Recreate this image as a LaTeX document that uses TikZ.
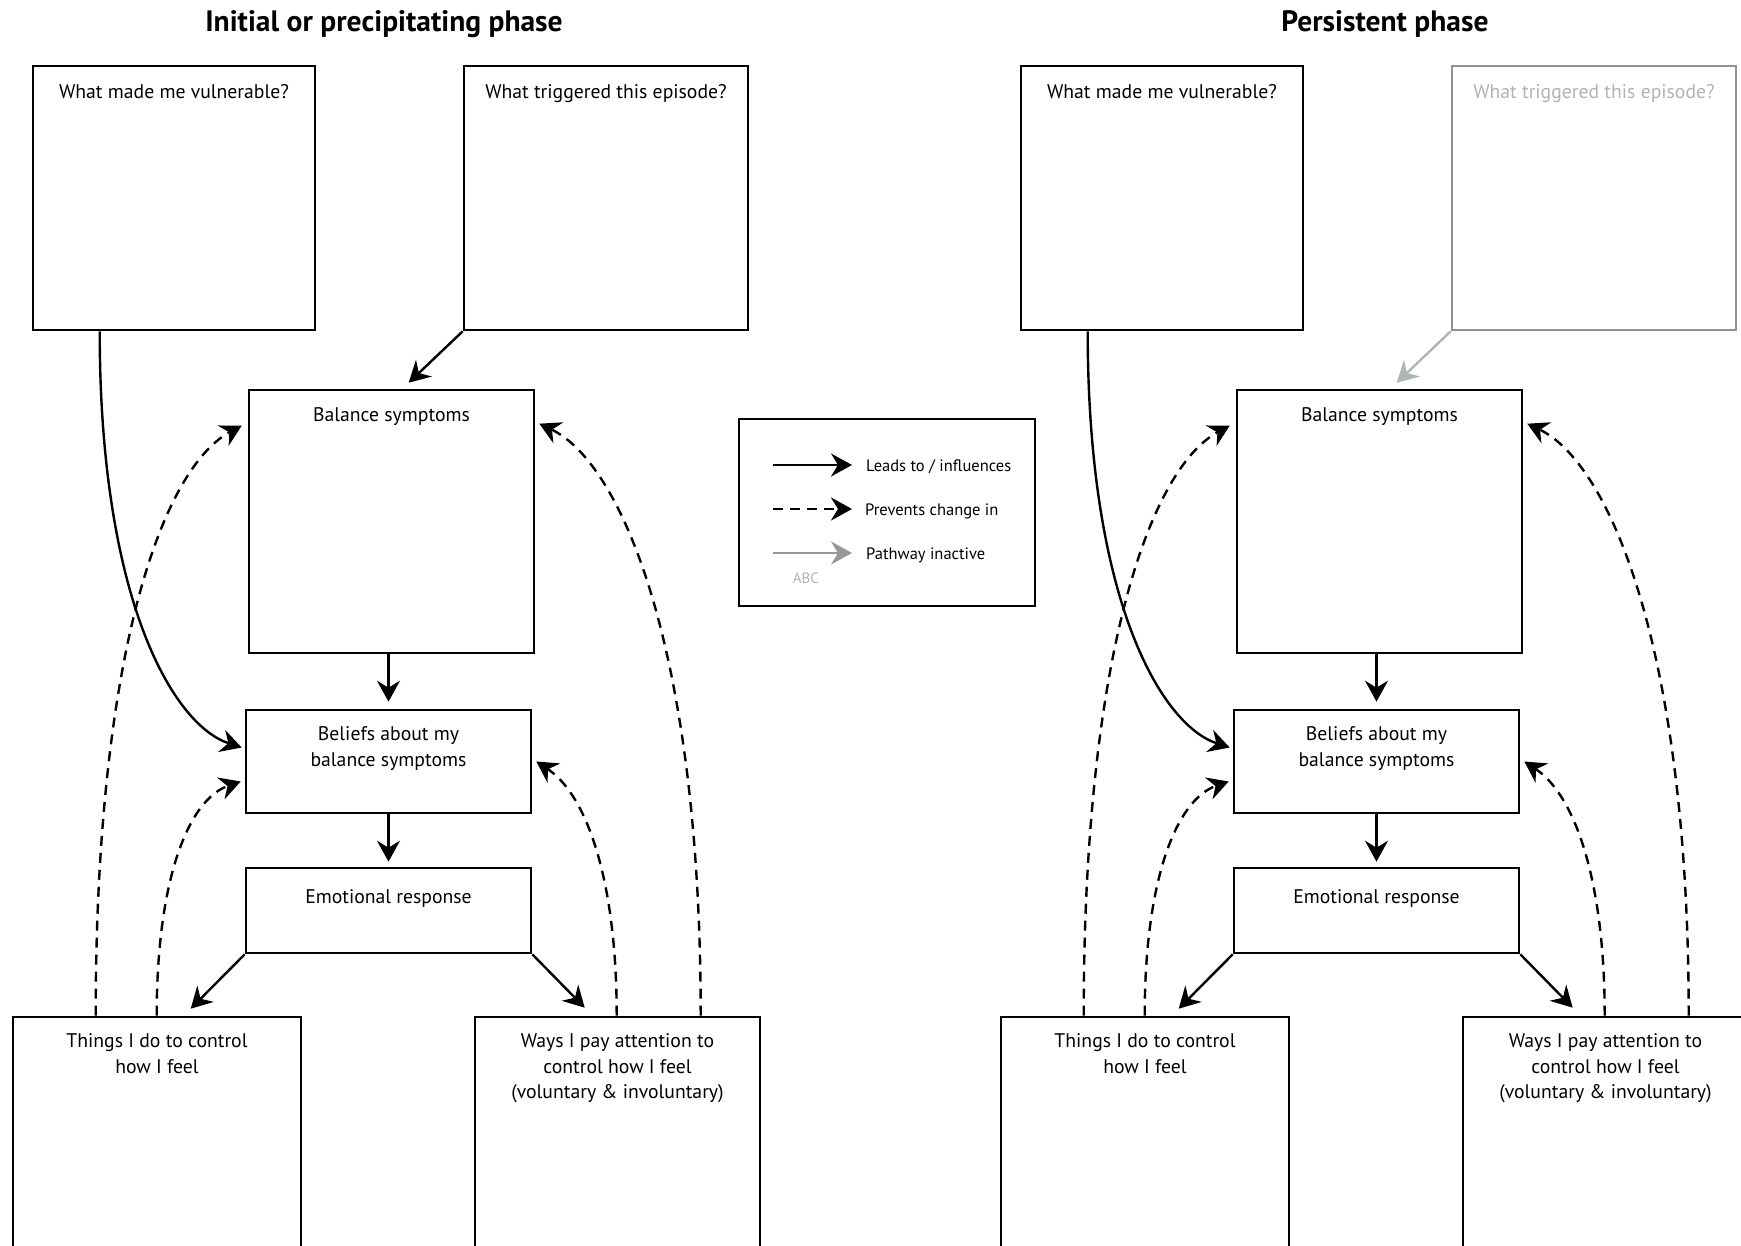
\documentclass[tikz,border=0pt]{standalone}
\usepackage{fontspec}
\setmainfont{PT Sans}
\usetikzlibrary{arrows.meta,positioning}
\definecolor{idleline}{RGB}{145,145,145}
\definecolor{idletext}{RGB}{178,178,178}
\definecolor{idlearrow}{RGB}{176,180,180}
\definecolor{keygray}{RGB}{150,152,154}

\begin{document}
\begin{tikzpicture}[x=1pt,y=-1pt,
    field/.style={draw,line width=2.6pt,minimum width=285pt,inner sep=0pt},
    fieldtext/.style={font=\fontsize{19.7}{25.5}\selectfont,align=center,inner sep=0pt},
    keytext/.style={font=\fontsize{16.5}{19}\selectfont,inner sep=0pt,anchor=west},
    phase/.style={font=\fontsize{29.5}{34}\selectfont\bfseries,inner sep=0pt,anchor=base},
    leads/.style={line width=2.4pt,-{Stealth[length=21pt,width=23pt,inset=7pt]}},
    prevents/.style={leads,dash pattern=on 10pt off 7pt}]
  \useasboundingbox (0,0) rectangle (1741,1246);
  \clip (0,0) rectangle (1741,1246);

  \node[phase] (phaseL) at (384,32) {Initial or precipitating phase};
  \node[phase] (phaseR) at (1385,32) {Persistent phase};

  % both phases, the right one shifted and with the trigger greyed out
  \foreach \dx/\p/\tl/\tt/\ta in {0/L/black/black/black,988/R/idleline/idletext/idlearrow}{
    \node[field,minimum width=282pt,minimum height=264pt] (vuln\p) at (\dx+174,198) {};
    \node[field,draw=\tl,minimum width=284pt,minimum height=264pt] (trig\p) at (\dx+606,198) {};
    \node[field,minimum height=263pt] (bal\p) at (\dx+391.5,521.5) {};
    \node[field,minimum height=103pt] (bel\p) at (\dx+388.5,761.5) {};
    \node[field,minimum height=85pt] (emo\p) at (\dx+388.5,910.5) {};
    \node[field,minimum width=288pt,minimum height=263pt] (thing\p) at (\dx+157,1148.5) {};
    \node[field,minimum height=263pt] (ways\p) at (\dx+617.5,1148.5) {};

    \node[fieldtext,below=20pt of vuln\p.north] (vulnT\p) {What made me vulnerable?};
    \node[fieldtext,text=\tt,below=20pt of trig\p.north] (trigT\p) {What triggered this episode?};
    \node[fieldtext,below=19pt of bal\p.north] (balT\p) {Balance symptoms};
    \node[fieldtext,below=18pt of bel\p.north] (belT\p) {Beliefs about my\\balance symptoms};
    \node[fieldtext,below=23pt of emo\p.north] (emoT\p) {Emotional response};
    \node[fieldtext,below=18pt of thing\p.north] (thingT\p) {Things I do to control\\how I feel};
    \node[fieldtext,below=18pt of ways\p.north] (waysT\p) {Ways I pay attention to\\control how I feel\\(voluntary \& involuntary)};

    \draw[leads,draw=\ta] (trig\p.south west) -- ([xshift=161pt,yshift=6pt]bal\p.north west);
    \draw[leads] ([xshift=68pt]vuln\p.south west) .. controls +(0,270) and +(-68,-22) .. ([xshift=-3pt,yshift=14pt]bel\p.west);
    \draw[leads] (bel\p.north |- bal\p.south) -- ([yshift=7pt]bel\p.north);
    \draw[leads] (bel\p.south) -- ([yshift=5pt]emo\p.north);
    \draw[leads] (emo\p.south west) -- ([xshift=179pt,yshift=7pt]thing\p.north west);
    \draw[leads] (emo\p.south east) -- ([xshift=111pt,yshift=8pt]ways\p.north west);

    \draw[prevents] ([xshift=84pt]thing\p.north west) .. controls +(0,-367) and +(-78,42) .. ([xshift=-6pt,yshift=-37pt]bal\p.north west);
    \draw[prevents] ([xshift=145pt]thing\p.north west) .. controls +(0,-137) and +(-52,18) .. ([xshift=-4pt,yshift=-20pt]bel\p.west);
    \draw[prevents] ([xshift=143pt]ways\p.north west) .. controls +(0,-137) and +(50,33) .. ([xshift=4pt]bel\p.east);
    \draw[prevents] ([xshift=227pt]ways\p.north west) .. controls +(0,-367) and +(82,39) .. ([xshift=4pt,yshift=-35pt]bal\p.north east);
  }

  % key
  \node[field,line width=2.4pt,minimum width=296pt,minimum height=187pt] (key) at (887,512.5) {};
  \node[keytext] (keyLead) at (866,467) {Leads to / influences};
  \node[keytext] (keyKeep) at (865,511) {Prevents change in};
  \node[keytext] (keyIdle) at (866,555) {Pathway inactive};
  \node[keytext,anchor=base,text=idletext,font=\fontsize{15}{18}\selectfont] (keyAbc) at (806,583) {ABC};
  \draw[leads] ([xshift=-93pt,yshift=2pt]keyLead.west) -- ([xshift=-14pt,yshift=2pt]keyLead.west);
  \draw[prevents] ([xshift=-92pt,yshift=2pt]keyKeep.west) -- ([xshift=-13pt,yshift=2pt]keyKeep.west);
  \draw[leads,draw=keygray] ([xshift=-93pt,yshift=2pt]keyIdle.west) -- ([xshift=-14pt,yshift=2pt]keyIdle.west);
\end{tikzpicture}
\end{document}
